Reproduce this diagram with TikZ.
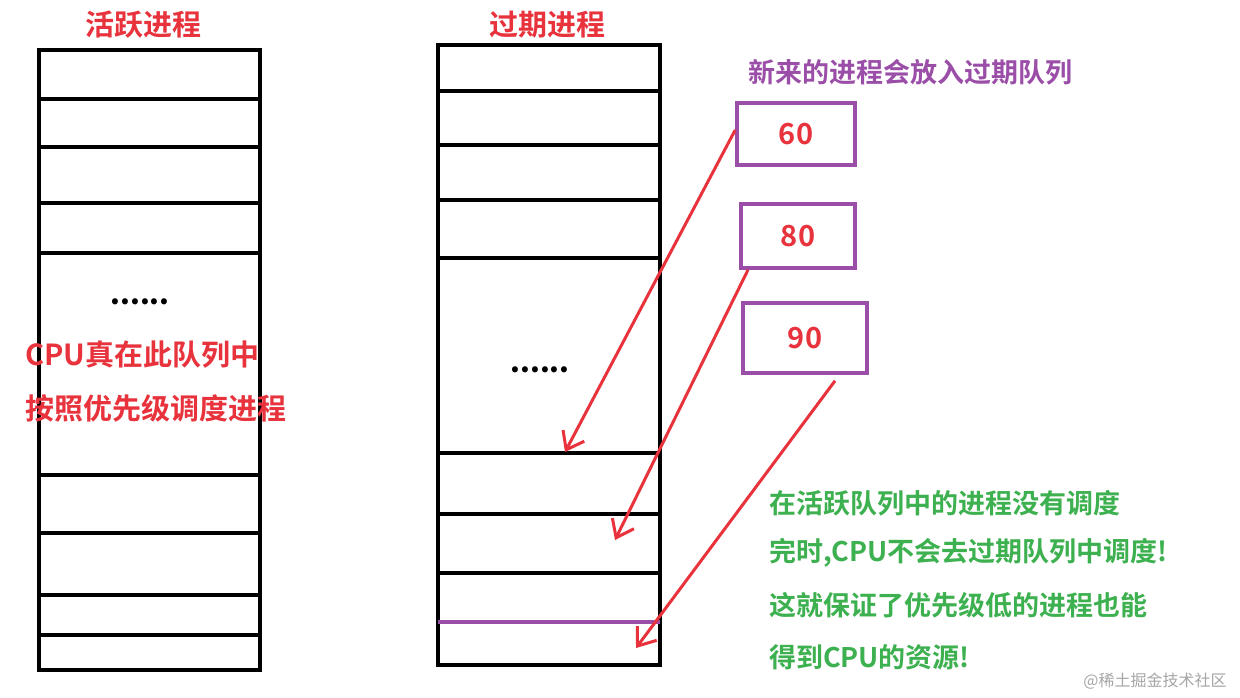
\documentclass[tikz,border=0pt]{standalone}
\usepackage{fontspec}
\setmainfont{Noto Sans CJK SC}
\newfontfamily\cjkb{Noto Sans CJK SC Bold}
\usetikzlibrary{arrows.meta}
\definecolor{myred}{HTML}{E8323C}
\definecolor{mygreen}{HTML}{3DB04F}
\definecolor{mypurple}{HTML}{9B4EA8}
\tikzset{
  ln/.style={line width=1.8pt},
  pbox/.style={draw=mypurple,line width=1.8pt},
  rtxt/.style={text=myred,font=\cjkb\fontsize{14.5}{16}\selectfont},
  gtxt/.style={text=mygreen,font=\cjkb\fontsize{13.5}{15}\selectfont,anchor=west},
  arr/.style={draw=myred,line width=1.5pt,-{Straight Barb[length=8pt,width=12pt]}}
}
\begin{document}
\begin{tikzpicture}[x=0.5pt,y=-0.5pt]
\useasboundingbox[fill=white] (0,0) rectangle (1240,697);
% left
\draw[ln] (39,50) rectangle (260,670);
\foreach \y in {99,147,203,253,475,533,595,635} \draw[ln] (39,\y) -- (260,\y);
\node[rtxt] (t1) at (143,25) {活跃进程};
\node[font=\bfseries\fontsize{14}{14}\selectfont] (d1) at (140,302) {......};
\node[rtxt,anchor=west] (c1) at (18,355) {CPU真在此队列中};
\node[rtxt,anchor=west] (c2) at (18,408) {按照优先级调度进程};
% right
\draw[ln] (438,45) rectangle (660,665);
\foreach \y in {91,145,200,258,453,514,573} \draw[ln] (438,\y) -- (660,\y);
\draw[line width=1.8pt,mypurple] (438,622) -- (660,622);
\coordinate (e1) at (565,452);
\coordinate (e2) at (615,540);
\coordinate (e3) at (636,648);
\node[rtxt] (t2) at (547,25) {过期进程};
\node[font=\bfseries\fontsize{14}{14}\selectfont] (d2) at (540,370) {......};
\node[text=mypurple,font=\cjkb\fontsize{13.5}{15}\selectfont] (np) at (910,72) {新来的进程会放入过期队列};
\node[pbox,minimum width=59pt,minimum height=31pt,rtxt] (b60) at (796,134) {60};
\node[pbox,minimum width=57pt,minimum height=32pt,rtxt] (b80) at (798,236) {80};
\node[pbox,minimum width=62pt,minimum height=35pt,rtxt] (b90) at (805,338) {90};
\draw[arr] ([yshift=2pt]b60.west) -- (e1);
\draw[arr] ([xshift=-25pt]b80.south) -- (e2);
\draw[arr] ([xshift=15pt,yshift=-3pt]b90.south) -- (e3);
\node[gtxt] (g1) at (762,503) {在活跃队列中的进程没有调度};
\node[gtxt] (g2) at (762,553) {完时,CPU不会去过期队列中调度!};
\node[gtxt] (g3) at (762,605) {这就保证了优先级低的进程也能};
\node[gtxt] (g4) at (762,657) {得到CPU的资源!};
\node[text=gray!70,font=\fontsize{8}{10}\selectfont] (w) at (1155,681) {@稀土掘金技术社区};
\end{tikzpicture}
\end{document}
